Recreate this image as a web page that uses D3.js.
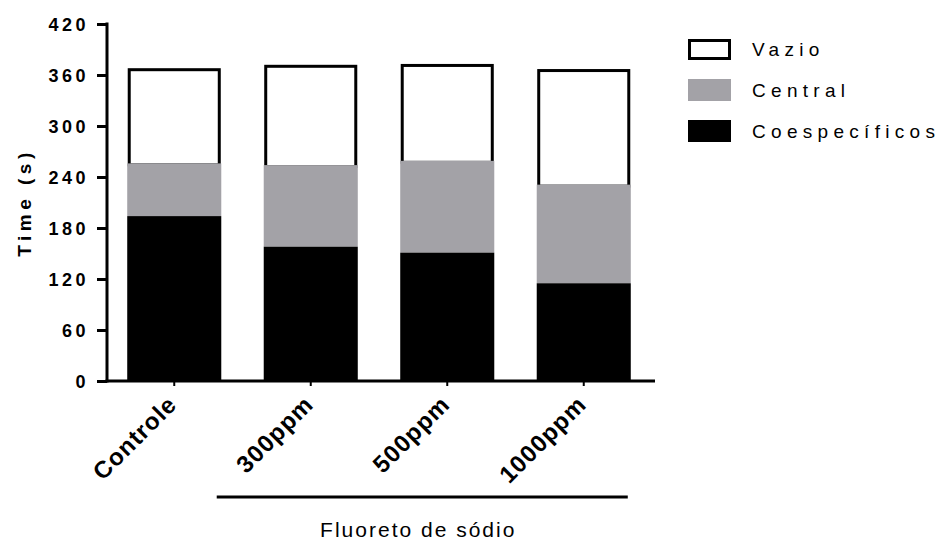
<!DOCTYPE html>
<html>
<head>
<meta charset="utf-8">
<script src="https://cdn.jsdelivr.net/npm/d3@7"></script>
<style>
  html, body { margin: 0; padding: 0; background: #fff; }
  svg { display: block; font-family: "Liberation Sans", Arial, sans-serif; }
</style>
</head>
<body>
<svg id="chart" width="939" height="541"></svg>
<script>
// Time spent in each zone (seconds), stacked per treatment group
const categories = ["Controle", "300ppm", "500ppm", "1000ppm"];
const coespecificos = [194, 158, 151, 115];
const central = [62, 96, 108, 116];
const vazio = [112, 118, 114, 136];
const yTicks = [0, 60, 120, 180, 240, 300, 360, 420];
const seriesNames = ["Vazio", "Central", "Coespecíficos"];
const groupLabel = "Fluoreto de sódio";
const yTitle = "Time (s)";

const GRAY = "#a3a2a7";
const FONT = "'Liberation Sans', Arial, sans-serif";
const svg = d3.select("#chart");

const x = d3.scaleBand()
  .domain(categories)
  .range([106, 652])
  .paddingInner(0.311)
  .paddingOuter(0.1555);

const y = d3.scaleLinear().domain([0, 420]).range([381, 24]);

// Stack order: bottom to top
const rows = categories.map((c, i) => ({
  cat: c, Coespecificos: coespecificos[i], Central: central[i], Vazio: vazio[i]
}));
const stack = d3.stack().keys(["Coespecificos", "Central", "Vazio"]);
const layers = stack(rows);
const byKey = {};
layers.forEach(l => byKey[l.key] = l);

const bars = svg.append("g");

// Vazio: white with black outline, drawn first so the filled segments cover its lower edge
bars.selectAll("rect.vazio")
  .data(byKey.Vazio)
  .join("rect")
  .attr("x", d => x(d.data.cat) + 2)
  .attr("width", x.bandwidth() - 4)
  .attr("y", d => y(d[1]) + 1.5)
  .attr("height", d => y(d[0]) - y(d[1]))
  .attr("fill", "#fff")
  .attr("stroke", "#000")
  .attr("stroke-width", 3);

bars.selectAll("rect.central")
  .data(byKey.Central)
  .join("rect")
  .attr("x", d => x(d.data.cat))
  .attr("width", x.bandwidth())
  .attr("y", d => y(d[1]))
  .attr("height", d => y(d[0]) - y(d[1]))
  .attr("fill", GRAY);

bars.selectAll("rect.coesp")
  .data(byKey.Coespecificos)
  .join("rect")
  .attr("x", d => x(d.data.cat))
  .attr("width", x.bandwidth())
  .attr("y", d => y(d[1]))
  .attr("height", d => y(d[0]) - y(d[1]))
  .attr("fill", "#000");

// Y axis
const yAxis = d3.axisLeft(y).tickValues(yTicks).tickSize(10).tickSizeOuter(0).tickPadding(8);
const gy = svg.append("g")
  .attr("transform", "translate(107,0)")
  .call(yAxis)
  .attr("font-family", FONT)
  .attr("font-size", 18)
  .attr("font-weight", "bold");
gy.select(".domain").attr("stroke-width", 3).attr("d", `M0,${y(420) - 1.5}V${y(0) + 1.5}`);
gy.selectAll(".tick line").attr("stroke-width", 3);
gy.selectAll(".tick text")
  .attr("letter-spacing", 3.5)
  .attr("fill", "#000")
  .attr("dy", "0.36em");

// X axis
const xAxis = d3.axisBottom(x).tickSize(5).tickSizeOuter(0).tickFormat("");
const gx = svg.append("g").attr("transform", `translate(0,${y(0)})`).call(xAxis);
gx.select(".domain").attr("stroke-width", 3).attr("d", "M105.5,0H655");
gx.selectAll(".tick line").attr("stroke-width", 2);

// Rotated category labels
svg.append("g").selectAll("text")
  .data(categories)
  .join("text")
  .attr("transform", d => `translate(${x(d) + x.bandwidth() / 2 + 4},${406}) rotate(-45)`)
  .attr("text-anchor", "end")
  .attr("font-size", 24)
  .attr("font-weight", "bold")
  .attr("letter-spacing", 1)
  .attr("fill", "#000")
  .text(d => d);

// Y title
svg.append("text")
  .attr("transform", `translate(31,${(y(0) + y(420)) / 2}) rotate(-90)`)
  .attr("text-anchor", "middle")
  .attr("font-size", 19)
  .attr("font-weight", "bold")
  .attr("letter-spacing", 4.5)
  .attr("fill", "#000")
  .text(yTitle);

// Group bracket under the treated groups
const gx0 = x("300ppm") - 47, gx1 = x("1000ppm") + x.bandwidth() - 3;
svg.append("line")
  .attr("x1", gx0).attr("x2", gx1)
  .attr("y1", 497).attr("y2", 497)
  .attr("stroke", "#000").attr("stroke-width", 3);
svg.append("text")
  .attr("x", (gx0 + gx1) / 2 - 4)
  .attr("y", 537)
  .attr("text-anchor", "middle")
  .attr("font-size", 21)
  .attr("letter-spacing", 2)
  .attr("fill", "#000")
  .text(groupLabel);

// Legend
const legendFill = { "Vazio": "#fff", "Central": GRAY, "Coespecíficos": "#000" };
const legendY = [49, 90, 131];
const lg = svg.append("g");
seriesNames.forEach((name, i) => {
  const cy = legendY[i];
  const isOutline = name === "Vazio";
  lg.append("rect")
    .attr("x", isOutline ? 689.5 : 688)
    .attr("y", isOutline ? cy - 8.5 : cy - 11)
    .attr("width", isOutline ? 40 : 43)
    .attr("height", isOutline ? 18 : 22)
    .attr("fill", legendFill[name])
    .attr("stroke", isOutline ? "#000" : "none")
    .attr("stroke-width", 3);
  lg.append("text")
    .attr("x", 752)
    .attr("y", cy)
    .attr("dy", "0.36em")
    .attr("font-size", 19)
    .attr("letter-spacing", 5.3)
    .attr("fill", "#000")
    .text(name);
});
</script>
</body>
</html>
